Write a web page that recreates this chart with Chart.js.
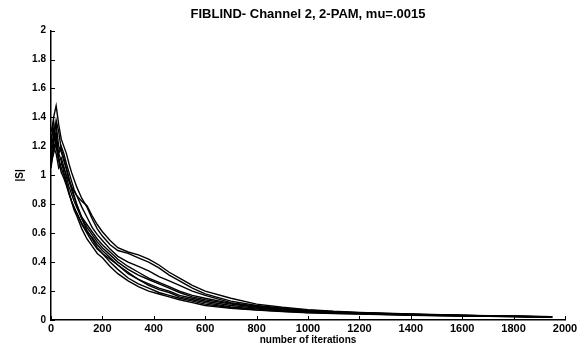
<!DOCTYPE html>
<html>
<head>
<meta charset="utf-8">
<script src="https://cdn.jsdelivr.net/npm/chart.js@4.4.1/dist/chart.umd.min.js"></script>
<style>
  html, body { margin: 0; padding: 0; background: #fff; }
  #wrap { width: 585px; height: 343px; }
</style>
</head>
<body>
<div id="wrap"><canvas id="chart"></canvas></div>
<script>
// iteration numbers where each run was sampled
const iterations = [0,10,20,30,40,50,60,70,80,90,100,120,140,160,180,200,230,260,300,340,380,420,460,500,550,600,700,800,900,1000,1100,1200,1400,1600,1800,1950];

// |S| for each run
const run1 = [1.12,1.25,1.38,1.30,1.18,1.12,1.05,0.98,0.92,0.86,0.80,0.70,0.62,0.56,0.50,0.46,0.40,0.35,0.29,0.25,0.22,0.19,0.17,0.15,0.13,0.11,0.085,0.070,0.060,0.052,0.046,0.042,0.034,0.028,0.024,0.020];
const run2 = [1.20,1.40,1.48,1.35,1.25,1.20,1.15,1.08,1.02,0.97,0.92,0.84,0.78,0.70,0.63,0.58,0.52,0.48,0.46,0.43,0.40,0.36,0.31,0.27,0.22,0.18,0.13,0.10,0.082,0.068,0.058,0.050,0.040,0.032,0.026,0.022];
const run3 = [1.05,1.18,1.25,1.15,1.10,1.02,0.96,0.88,0.82,0.76,0.72,0.63,0.56,0.51,0.46,0.43,0.37,0.32,0.27,0.23,0.20,0.18,0.16,0.14,0.12,0.10,0.080,0.068,0.058,0.050,0.045,0.041,0.033,0.027,0.023,0.019];
const run4 = [1.30,1.38,1.22,1.15,1.20,1.15,1.08,1.02,0.96,0.90,0.86,0.78,0.71,0.64,0.59,0.55,0.49,0.44,0.40,0.37,0.34,0.30,0.27,0.24,0.20,0.17,0.12,0.095,0.078,0.065,0.056,0.049,0.039,0.031,0.026,0.021];
const run5 = [1.15,1.22,1.30,1.12,1.05,1.00,0.94,0.88,0.82,0.77,0.74,0.66,0.60,0.54,0.49,0.46,0.42,0.38,0.33,0.28,0.25,0.22,0.20,0.17,0.15,0.13,0.10,0.082,0.068,0.058,0.051,0.046,0.037,0.030,0.025,0.021];
const run6 = [1.10,1.20,1.15,1.05,1.08,1.05,1.00,0.96,0.92,0.89,0.86,0.82,0.79,0.72,0.66,0.61,0.55,0.50,0.47,0.45,0.42,0.38,0.33,0.29,0.24,0.20,0.15,0.11,0.088,0.072,0.060,0.052,0.041,0.033,0.027,0.022];
const run7 = [1.25,1.32,1.20,1.10,1.12,1.06,0.99,0.92,0.87,0.82,0.78,0.70,0.64,0.59,0.54,0.50,0.45,0.40,0.35,0.31,0.28,0.25,0.22,0.19,0.16,0.14,0.11,0.088,0.072,0.061,0.053,0.047,0.038,0.031,0.025,0.021];
const run8 = [1.18,1.28,1.35,1.20,1.16,1.10,1.04,0.97,0.90,0.85,0.80,0.71,0.66,0.61,0.56,0.52,0.47,0.42,0.37,0.33,0.29,0.26,0.23,0.20,0.17,0.15,0.115,0.09,0.074,0.062,0.054,0.048,0.038,0.031,0.026,0.021];
const run9 = [1.08,1.15,1.22,1.10,1.02,0.98,0.93,0.87,0.82,0.78,0.74,0.67,0.61,0.57,0.52,0.48,0.43,0.38,0.32,0.28,0.24,0.21,0.19,0.16,0.14,0.12,0.09,0.076,0.064,0.055,0.049,0.044,0.036,0.029,0.024,0.020];

const runs = [run1, run2, run3, run4, run5, run6, run7, run8, run9];

const xTicks = [0,200,400,600,800,1000,1200,1400,1600,1800,2000];
const yTicks = [0,0.2,0.4,0.6,0.8,1,1.2,1.4,1.6,1.8,2];

const font = "'Liberation Sans', Arial, sans-serif";

const datasets = runs.map(r => ({
  data: r.map((v, i) => ({ x: iterations[i], y: v })),
  borderColor: "#000",
  borderWidth: 1.4,
  pointRadius: 0,
  fill: false,
  tension: 0
}));

// small tick marks pointing into the plot, like the original
const innerTicks = {
  id: "innerTicks",
  afterDraw(chart) {
    const { ctx, scales: { x, y } } = chart;
    ctx.save();
    ctx.strokeStyle = "#000";
    ctx.lineWidth = 1;
    ctx.beginPath();
    xTicks.forEach(v => {
      const px = Math.round(x.getPixelForValue(v)) + 0.5;
      ctx.moveTo(px, y.bottom);
      ctx.lineTo(px, y.bottom - 4);
    });
    yTicks.forEach(v => {
      const py = Math.round(y.getPixelForValue(v)) + 0.5;
      ctx.moveTo(x.left, py);
      ctx.lineTo(x.left + 4, py);
    });
    ctx.stroke();
    ctx.restore();
  }
};

new Chart(document.getElementById("chart"), {
  type: "line",
  data: { datasets },
  plugins: [innerTicks],
  options: {
    responsive: true,
    maintainAspectRatio: false,
    animation: false,
    layout: { padding: { left: 0, right: 20, top: 0, bottom: 0 } },
    plugins: {
      legend: { display: false },
      tooltip: { enabled: false },
      title: {
        display: true,
        fullSize: false,
        text: "FIBLIND- Channel 2, 2-PAM, mu=.0015",
        color: "#000",
        font: { family: font, size: 13, weight: "bold" },
        padding: { top: 7, bottom: 8 }
      }
    },
    scales: {
      x: {
        type: "linear",
        min: 0, max: 2000,
        afterBuildTicks: s => { s.ticks = xTicks.map(v => ({ value: v })); },
        afterFit: s => { s.height = 23; },
        border: { color: "#000", width: 1.5 },
        grid: { display: false, drawTicks: false },
        ticks: { color: "#000", padding: 2, maxRotation: 0, callback: v => String(v), font: { family: font, size: 11, weight: "bold" } },
        title: {
          display: true, text: "number of iterations", color: "#000",
          font: { family: font, size: 10, weight: "bold" }, padding: { top: 0, bottom: -3 }
        }
      },
      y: {
        min: 0, max: 2,
        afterBuildTicks: s => { s.ticks = yTicks.map(v => ({ value: v })); },
        afterFit: s => { s.width = 51; },
        border: { color: "#000", width: 1.5 },
        grid: { display: false, drawTicks: false },
        ticks: { color: "#000", padding: 5, callback: v => String(v), font: { family: font, size: 10, weight: "bold" } },
        title: {
          display: true, text: "|S|", color: "#000",
          font: { family: font, size: 10, weight: "bold" }, padding: { top: 14, bottom: 0 }
        }
      }
    }
  }
});
</script>
</body>
</html>
